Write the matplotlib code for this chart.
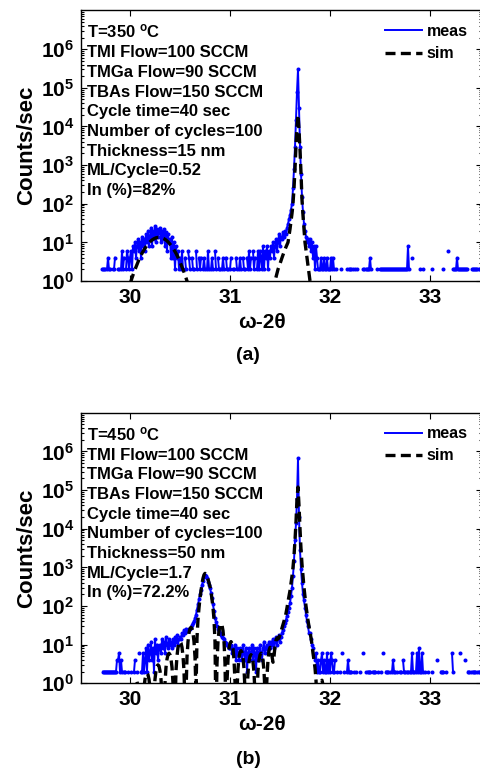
import numpy as np
import matplotlib
matplotlib.use('Agg')
import matplotlib.pyplot as plt
from matplotlib.ticker import LogLocator, NullFormatter

plt.rcParams['font.family'] = 'Liberation Sans'
plt.rcParams['font.weight'] = 'bold'
plt.rcParams['mathtext.fontset'] = 'custom'
plt.rcParams['mathtext.rm'] = 'Liberation Sans:bold'
plt.rcParams['mathtext.bf'] = 'Liberation Sans:bold'
plt.rcParams['mathtext.it'] = 'Liberation Sans:bold'

# measured scans, counts/sec, 0.01 deg steps starting at 29.70 (0 = no counts)
meas_start = 29.70
meas_step = 0.01
meas_a = [
    0, 0, 2, 2, 2, 2, 0, 2, 4, 2,
    2, 0, 0, 2, 2, 4, 0, 0, 2, 2,
    0, 2, 6, 2, 4, 0, 2, 6, 4, 2,
    4, 6, 2, 8, 6, 10, 4, 8, 12, 6,
    10, 4, 14, 8, 12, 6, 16, 10, 20, 8,
    14, 24, 8, 20, 12, 26, 10, 22, 14, 18,
    24, 10, 20, 12, 22, 8, 18, 6, 16, 10,
    12, 4, 14, 4, 10, 2, 8, 4, 6, 2,
    4, 2, 6, 2, 0, 4, 2, 0, 6, 4,
    2, 0, 4, 2, 2, 0, 6, 2, 0, 4,
    2, 4, 0, 2, 4, 2, 0, 2, 6, 2,
    0, 2, 4, 2, 0, 6, 2, 0, 4, 2,
    2, 0, 2, 4, 2, 0, 4, 2, 2, 0,
    2, 4, 0, 2, 2, 0, 4, 2, 0, 2,
    4, 2, 0, 4, 2, 2, 0, 4, 2, 6,
    2, 4, 0, 6, 2, 4, 0, 2, 6, 2,
    6, 4, 2, 8, 2, 6, 4, 8, 2, 6,
    4, 8, 6, 10, 4, 8, 12, 6, 10, 16,
    8, 14, 12, 18, 14, 20, 16, 24, 30, 40,
    50, 70, 100, 250, 800, 3000, 15000, 80000, 300000, 30000,
    3000, 600, 150, 60, 30, 20, 14, 10, 12, 8,
    12, 6, 10, 4, 8, 2, 8, 4, 2, 2,
    2, 4, 2, 2, 4, 2, 2, 4, 2, 2,
    2, 4, 2, 4, 2, 0, 2, 0, 0, 0,
    0, 2, 0, 0, 0, 0, 0, 2, 0, 2,
    2, 2, 0, 2, 0, 2, 0, 2, 0, 0,
    0, 0, 0, 2, 2, 0, 2, 2, 2, 2,
    4, 2, 0, 0, 0, 0, 0, 2, 0, 0,
    2, 2, 2, 2, 2, 2, 2, 2, 2, 2,
    2, 2, 2, 2, 2, 2, 2, 2, 2, 2,
    2, 2, 2, 2, 2, 2, 2, 2, 8, 2,
    0, 0, 4, 0, 0, 0, 0, 0, 0, 0,
    2, 0, 0, 2, 0, 0, 0, 0, 0, 0,
    0, 0, 2, 0, 0, 0, 0, 0, 0, 0,
    0, 0, 0, 2, 0, 0, 0, 0, 6, 0,
    0, 0, 0, 2, 2, 2, 2, 4, 2, 2,
    2, 2, 2, 2, 2, 2, 2, 2, 0, 0,
    0, 0, 2, 2, 2, 2, 2, 2, 0, 2,
    2,
]
meas_b = [
    0, 0, 0, 2, 2, 2, 2, 2, 2, 2,
    2, 2, 2, 2, 2, 2, 2, 4, 4, 6,
    2, 4, 2, 0, 2, 2, 0, 0, 2, 0,
    0, 2, 0, 0, 2, 4, 0, 2, 0, 6,
    0, 2, 2, 6, 2, 4, 8, 2, 10, 4,
    6, 12, 4, 8, 2, 14, 6, 10, 4, 8,
    10, 6, 14, 8, 12, 6, 16, 10, 8, 14,
    10, 12, 8, 14, 10, 16, 12, 18, 10, 14,
    16, 14, 20, 18, 24, 20, 26, 22, 24, 26,
    26, 28, 32, 36, 40, 48, 60, 80, 110, 150,
    200, 260, 350, 450, 560, 630, 600, 520, 430, 360,
    290, 220, 160, 110, 75, 50, 38, 30, 26, 22,
    20, 18, 16, 15, 14, 12, 11, 10, 9, 8,
    8, 10, 6, 8, 6, 10, 4, 8, 6, 4,
    8, 6, 4, 10, 6, 4, 8, 2, 6, 8,
    4, 6, 10, 4, 8, 6, 2, 8, 4, 6,
    10, 6, 4, 8, 12, 6, 8, 10, 6, 12,
    8, 12, 10, 14, 8, 12, 16, 10, 14, 18,
    12, 16, 20, 24, 30, 36, 44, 56, 70, 90,
    120, 180, 300, 600, 1500, 5000, 14000, 60000, 670000, 20000,
    2800, 900, 400, 200, 140, 90, 60, 40, 30, 20,
    20, 14, 10, 8, 5, 4, 6, 2, 4, 2,
    2, 4, 6, 2, 4, 2, 2, 6, 2, 4,
    2, 6, 4, 2, 2, 4, 0, 2, 0, 0,
    2, 0, 6, 0, 2, 0, 0, 2, 4, 2,
    2, 2, 0, 0, 2, 0, 2, 0, 0, 0,
    2, 0, 0, 6, 0, 0, 2, 0, 2, 2,
    2, 0, 0, 2, 2, 2, 0, 0, 2, 0,
    0, 2, 0, 6, 0, 0, 2, 2, 2, 0,
    2, 0, 2, 4, 2, 2, 0, 2, 0, 0,
    2, 2, 0, 4, 2, 2, 0, 2, 2, 0,
    2, 2, 6, 2, 2, 0, 2, 6, 2, 8,
    2, 2, 6, 2, 0, 2, 0, 0, 2, 0,
    0, 0, 2, 0, 0, 0, 0, 4, 0, 0,
    0, 2, 2, 2, 0, 0, 2, 0, 0, 0,
    0, 0, 6, 2, 0, 0, 0, 0, 0, 0,
    6, 0, 0, 0, 0, 4, 0, 0, 2, 2,
    0, 2, 0, 2, 2, 2, 0, 2, 0, 2,
    2,
]

# simulated curves
sim_a_x = [29.96, 29.98, 30.00, 30.02, 30.04, 30.06, 30.08, 30.10, 30.12, 30.14,
           30.16, 30.18, 30.20, 30.22, 30.24, 30.26, 30.28, 30.30, 30.32, 30.34,
           30.36, 30.38, 30.40, 30.42, 30.44, 30.46, 30.48, 30.50, 30.52, 30.54,
           30.56, 30.58, 30.60, 30.62,
           31.40, 31.42, 31.44, 31.46, 31.48, 31.50, 31.52, 31.54, 31.56, 31.58,
           31.60, 31.62, 31.63, 31.64, 31.65, 31.66, 31.67, 31.68, 31.69, 31.70,
           31.71, 31.72, 31.73, 31.74, 31.75, 31.76, 31.77, 31.78, 31.79, 31.80,
           31.82, 31.84]
sim_a_y = [0.36, 0.56, 0.83, 1.2, 1.7, 2.3, 3.1, 4.1, 5.2, 6.4,
           7.7, 9.0, 10.3, 11.5, 12.4, 13.1, 13.4, 13.4, 13.1, 12.4,
           11.5, 10.3, 9.0, 7.7, 6.4, 5.2, 4.1, 3.1, 2.3, 1.7,
           1.2, 0.83, 0.56, 0.36,
           0.32, 0.5, 0.79, 1.26, 2.0, 2.8, 4.0, 5.6, 7.6, 10,
           22, 56, 100, 250, 800, 3200, 10000, 20000, 8000, 2500,
           630, 126, 50, 22, 10, 6.3, 4.0, 2.5, 1.6, 1.0,
           0.4, 0.16]

sim_b_start = 30.00
sim_b_step = 0.01
sim_b = [
    0.1,
    0.024, 0.21, 0.51, 0.85, 1.1, 1.2, 1.1, 0.85, 0.51, 0.21, 0.024,
    0.037, 0.31, 0.77, 1.27, 1.66, 1.8, 1.66, 1.27, 0.77, 0.31, 0.037,
    0.06, 0.52, 1.28, 2.1, 2.8, 3, 2.8, 2.1, 1.28, 0.52, 0.06,
    0.12, 1.0, 2.6, 4.2, 5.5, 6, 5.5, 4.2, 2.6, 1.0, 0.12,
    0.24, 2.1, 5.1, 8.5, 11, 12, 11, 8.5, 5.1, 2.1, 0.24,
    0.57, 4.8, 12, 20, 26, 28, 26, 20, 12, 4.8, 0.57,
    15, 45, 90, 160, 250, 380, 520, 640, 700, 680,
    600, 500, 400, 320, 230, 150, 90, 45, 12, 0.1,
    3.3, 12, 23, 32, 35, 32, 23, 12, 3.3, 0.1,
    1.1, 4.1, 7.9, 10.9, 12, 10.9, 7.9, 4.1, 1.1, 0.1,
    0.67, 2.4, 4.6, 6.3, 7, 6.3, 4.6, 2.4, 0.67, 0.1,
    0.53, 1.9, 3.6, 5, 5.5, 5, 3.6, 1.9, 0.53, 0.15,
    0.57, 2.1, 3.9, 5.4, 6, 5.4, 3.9, 2.1, 0.57, 0.3,
    1.5, 4, 7, 8.5, 8, 5, 3.5, 5, 9, 13,
    15, 14, 15, 18, 22, 27, 33, 40, 50, 65,
    90, 130, 180, 250, 380, 600, 1000, 2000, 5000, 15000,
    60000, 120000, 40000, 10000, 3000, 1200, 600, 300, 170, 100,
    65, 42, 30, 22, 15, 10, 6, 4, 2.5, 1.2,
    0.3, 0.05, 0.3, 0.8, 1.1, 1.2, 0.9, 0.4, 0.05,
]

info_a = ['T=350 $^{o}$C', 'TMI Flow=100 SCCM', 'TMGa Flow=90 SCCM',
          'TBAs Flow=150 SCCM', 'Cycle time=40 sec', 'Number of cycles=100',
          'Thickness=15 nm', 'ML/Cycle=0.52', 'In (%)=82%']
info_b = ['T=450 $^{o}$C', 'TMI Flow=100 SCCM', 'TMGa Flow=90 SCCM',
          'TBAs Flow=150 SCCM', 'Cycle time=40 sec', 'Number of cycles=100',
          'Thickness=50 nm', 'ML/Cycle=1.7', 'In (%)=72.2%']

xticks = [30, 31, 32, 33]
ydecades = [0, 1, 2, 3, 4, 5, 6]

W, H = 481, 778
fig = plt.figure(figsize=(W / 100, H / 100), dpi=100)
ax_a = fig.add_axes([81 / W, 1 - 281 / H, 401 / W, 270.5 / H])
ax_b = fig.add_axes([81 / W, 1 - 683.3 / H, 401 / W, 270.5 / H])


def draw(ax, meas, sim_x, sim_y, info, tag, tag_y):
    m = np.array(meas, dtype=float)
    m[m <= 0] = np.nan
    mx = meas_start + meas_step * np.arange(len(m))
    ax.plot(mx, m, color='#0000ff', lw=1.4, marker='o', ms=2.9, mew=0,
            label='meas')
    ax.plot(sim_x, sim_y, color='black', lw=2.4, dashes=(3.0, 1.6),
            label='sim')
    ax.set_yscale('log')
    ax.set_xlim(29.51, 33.52)
    ax.set_ylim(1, 1e7)
    ax.set_xticks(xticks)
    ax.set_xticklabels([str(t) for t in xticks], fontsize=15, fontweight='bold')
    ax.set_yticks([10.0 ** k for k in ydecades])
    ax.set_yticklabels([r'$\mathbf{10^{%d}}$' % k for k in ydecades], fontsize=15)
    ax.yaxis.set_minor_locator(LogLocator(base=10, subs=np.arange(2, 10), numticks=20))
    ax.yaxis.set_minor_formatter(NullFormatter())
    ax.tick_params(which='both', direction='in', top=True, right=True, width=0.8)
    ax.tick_params(which='major', length=4, pad=5)
    ax.tick_params(which='minor', length=2.2)
    for s in ax.spines.values():
        s.set_linewidth(1.0)
    ax.set_xlabel('ω-2θ', fontsize=15, fontweight='bold')
    ax.xaxis.set_label_coords(0.451, -0.152)
    ax.xaxis.label.set_va('center')
    ax.set_ylabel('Counts/sec', fontsize=16, fontweight='bold')
    ax.yaxis.set_label_coords(-0.135, 0.5)
    ax.yaxis.label.set_va('center')
    for i, line in enumerate(info):
        ax.text(6 / 401, 1 - (27.3 + 19.65 * i) / 270.5, line, transform=ax.transAxes,
                fontsize=12, fontweight='bold', va='baseline', ha='left')
    leg = ax.legend(loc='upper left', bbox_to_anchor=(0.758, 1 - 13.5 / 270.5),
                    frameon=False, fontsize=11.5, handlelength=2.3,
                    handletextpad=0.3, labelspacing=0.45, borderpad=0,
                    borderaxespad=0)
    for t in leg.get_texts():
        t.set_fontweight('bold')
    for h in leg.get_lines():
        h.set_marker('')
    fig.text(248 / W, 1 - tag_y / H, tag, ha='center', va='center',
             fontsize=14, fontweight='bold')


sim_b_x = sim_b_start + sim_b_step * np.arange(len(sim_b))
draw(ax_a, meas_a, sim_a_x, sim_a_y, info_a, '(a)', 355)
draw(ax_b, meas_b, sim_b_x, sim_b, info_b, '(b)', 760)

fig.savefig('out.png', dpi=100)
